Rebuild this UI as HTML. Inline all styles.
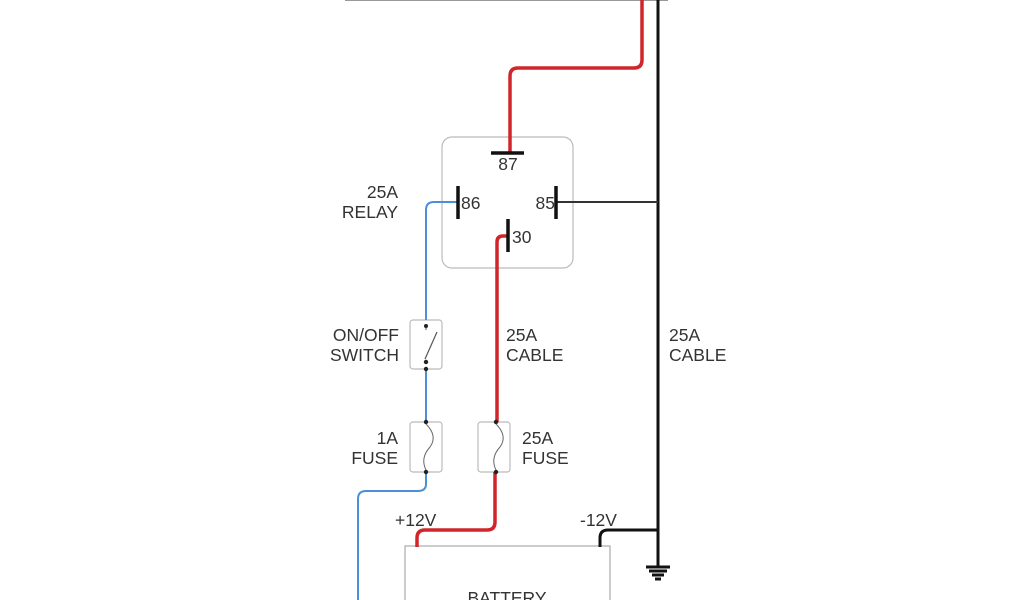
<!DOCTYPE html>
<html><head><style>body{margin:0;background:#fff}svg{display:block}</style></head><body>
<svg width="1024" height="600" xmlns="http://www.w3.org/2000/svg" font-family="Liberation Sans, sans-serif" font-size="17.5" fill="#333">
<line x1="345" y1="0" x2="668" y2="0" stroke="#999" stroke-width="2"/>
<rect x="442" y="137" width="131" height="131" rx="10" fill="none" stroke="#bbb" stroke-width="1.2"/>
<rect x="410" y="320" width="32" height="49" rx="3" fill="none" stroke="#bbb" stroke-width="1.2"/>
<rect x="410" y="422" width="32" height="50" rx="3" fill="none" stroke="#bbb" stroke-width="1.2"/>
<rect x="478" y="422" width="32" height="50" rx="3" fill="none" stroke="#bbb" stroke-width="1.2"/>
<rect x="405" y="546" width="205" height="70" fill="none" stroke="#aaa" stroke-width="1.2"/>
<path d="M642 0 V60 Q642 68 634 68 H518 Q510 68 510 76 V153" fill="none" stroke="#d0262b" stroke-width="3.5"/>
<path d="M508 236 H503 Q497 236 497 242 V422" fill="none" stroke="#d0262b" stroke-width="3.5"/>
<path d="M495 472 V522 Q495 530 487 530 H425 Q417 530 417 538 V547" fill="none" stroke="#d0262b" stroke-width="3.5"/>
<path d="M458 202 H434 Q426 202 426 210 V320" fill="none" stroke="#4a90d9" stroke-width="2"/>
<path d="M426 369 V422" fill="none" stroke="#4a90d9" stroke-width="2"/>
<path d="M426 472 V484 Q426 491 418 491 H366 Q358 491 358 499 V600" fill="none" stroke="#4a90d9" stroke-width="2"/>
<line x1="658" y1="0" x2="658" y2="568" stroke="#111" stroke-width="3"/>
<line x1="556" y1="202" x2="658" y2="202" stroke="#333" stroke-width="2"/>
<path d="M658 530 H608 Q600 530 600 538 V547" fill="none" stroke="#111" stroke-width="3"/>
<g stroke="#111" stroke-width="3"><line x1="646" y1="567" x2="670" y2="567"/><line x1="649" y1="571" x2="667" y2="571"/><line x1="652" y1="575" x2="664" y2="575"/><line x1="655" y1="579" x2="661" y2="579"/></g>
<g stroke="#111" stroke-width="3.5"><line x1="491" y1="153" x2="524" y2="153"/><line x1="458" y1="186" x2="458" y2="219"/><line x1="556" y1="186" x2="556" y2="219"/><line x1="508" y1="219" x2="508" y2="252"/></g>
<line x1="426" y1="326" x2="426" y2="330" stroke="#555" stroke-width="1"/>
<line x1="425" y1="359" x2="437" y2="332" stroke="#555" stroke-width="1.2"/>
<g fill="#222"><circle cx="426" cy="326" r="2"/><circle cx="426" cy="362" r="2.2"/><circle cx="426" cy="369" r="2.2"/><circle cx="426" cy="422" r="2.2"/><circle cx="426" cy="472" r="2.2"/><circle cx="496" cy="422" r="2.2"/><circle cx="496" cy="472" r="2.2"/></g>
<path d="M426 424 Q438 436 430 447 Q420 458 426 470" fill="none" stroke="#666" stroke-width="1"/>
<path d="M496 424 Q508 436 500 447 Q490 458 496 470" fill="none" stroke="#666" stroke-width="1"/>
<text x="508" y="170" text-anchor="middle">87</text>
<text x="461" y="209">86</text>
<text x="555" y="209" text-anchor="end">85</text>
<text x="512" y="243">30</text>
<g text-anchor="end"><text x="398" y="198">25A</text><text x="398" y="218">RELAY</text>
<text x="399" y="341">ON/OFF</text><text x="399" y="361">SWITCH</text>
<text x="398" y="444">1A</text><text x="398" y="464">FUSE</text></g>
<text x="506" y="341">25A</text><text x="506" y="361">CABLE</text>
<text x="669" y="341">25A</text><text x="669" y="361">CABLE</text>
<text x="522" y="444">25A</text><text x="522" y="464">FUSE</text>
<text x="395" y="526">+12V</text><text x="580" y="526">-12V</text>
<text x="507" y="604" text-anchor="middle">BATTERY</text>
</svg>
</body></html>
